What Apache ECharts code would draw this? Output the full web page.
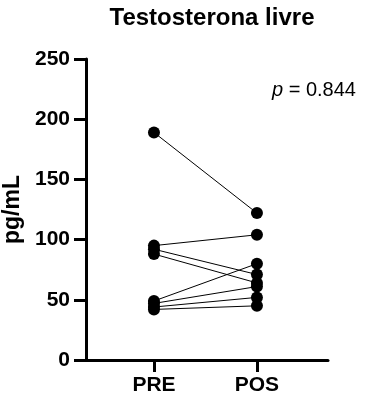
<!DOCTYPE html>
<html>
<head>
<meta charset="utf-8">
<script src="https://cdn.jsdelivr.net/npm/echarts@6/dist/echarts.min.js"></script>
<style>
  html, body { margin: 0; padding: 0; background: #fff; }
  #chart { width: 377px; height: 398px; }
</style>
</head>
<body>
<div id="chart"></div>
<script>
// paired values, one per subject
const categories = ['PRE', 'POS']
const preValues = [189, 95, 92, 88, 49, 47, 44, 42]
const posValues = [122, 104, 71, 64, 80, 61, 52, 45]
const yTicks = [0, 50, 100, 150, 200, 250]
const pValue = '0.844'

const font = 'Liberation Sans, Arial, sans-serif'

const series = preValues.map((v, i) => ({
  type: 'line',
  data: [[0, v], [1, posValues[i]]],
  symbol: 'circle',
  symbolSize: 12,
  itemStyle: { color: '#000' },
  lineStyle: { color: '#000', width: 1 },
  silent: true,
  animation: false
}))

const chart = echarts.init(document.getElementById('chart'))
chart.setOption({
  title: {
    text: 'Testosterona livre',
    left: 207,
    textAlign: 'center',
    top: 1,
    textStyle: { fontFamily: font, fontWeight: 'bold', fontSize: 24, color: '#000' }
  },
  grid: { left: 86, right: 49, top: 59, bottom: 38, outerBoundsMode: 'none' },
  xAxis: {
    type: 'value',
    min: -0.66,
    max: 1.69,
    splitLine: { show: false },
    axisLine: { onZero: false, lineStyle: { color: '#000', width: 3 } },
    axisTick: { customValues: [0, 1], length: 12, lineStyle: { color: '#000', width: 3 } },
    axisLabel: {
      customValues: [0, 1],
      formatter: v => categories[Math.round(v)],
      margin: 15,
      fontFamily: font, fontWeight: 'bold', fontSize: 21, color: '#000'
    }
  },
  yAxis: {
    type: 'value',
    min: 0,
    max: 250,
    interval: 50,
    name: 'pg/mL',
    nameLocation: 'middle',
    nameGap: 61,
    nameTextStyle: { fontFamily: font, fontWeight: 'bold', fontSize: 23, color: '#000' },
    splitLine: { show: false },
    axisLine: { show: true, onZero: false, lineStyle: { color: '#000', width: 3 } },
    axisTick: { show: true, length: 12, lineStyle: { color: '#000', width: 3 } },
    axisLabel: {
      customValues: yTicks,
      margin: 16,
      fontFamily: font, fontWeight: 'bold', fontSize: 21, color: '#000'
    }
  },
  graphic: [{
    type: 'text',
    left: 272,
    top: 80,
    style: {
      text: '{i|p} = ' + pValue,
      rich: { i: { fontStyle: 'italic', fontFamily: font, fontSize: 20, fill: '#000' } },
      font: '20px ' + font,
      fill: '#000'
    }
  }],
  series: series
})
</script>
</body>
</html>
